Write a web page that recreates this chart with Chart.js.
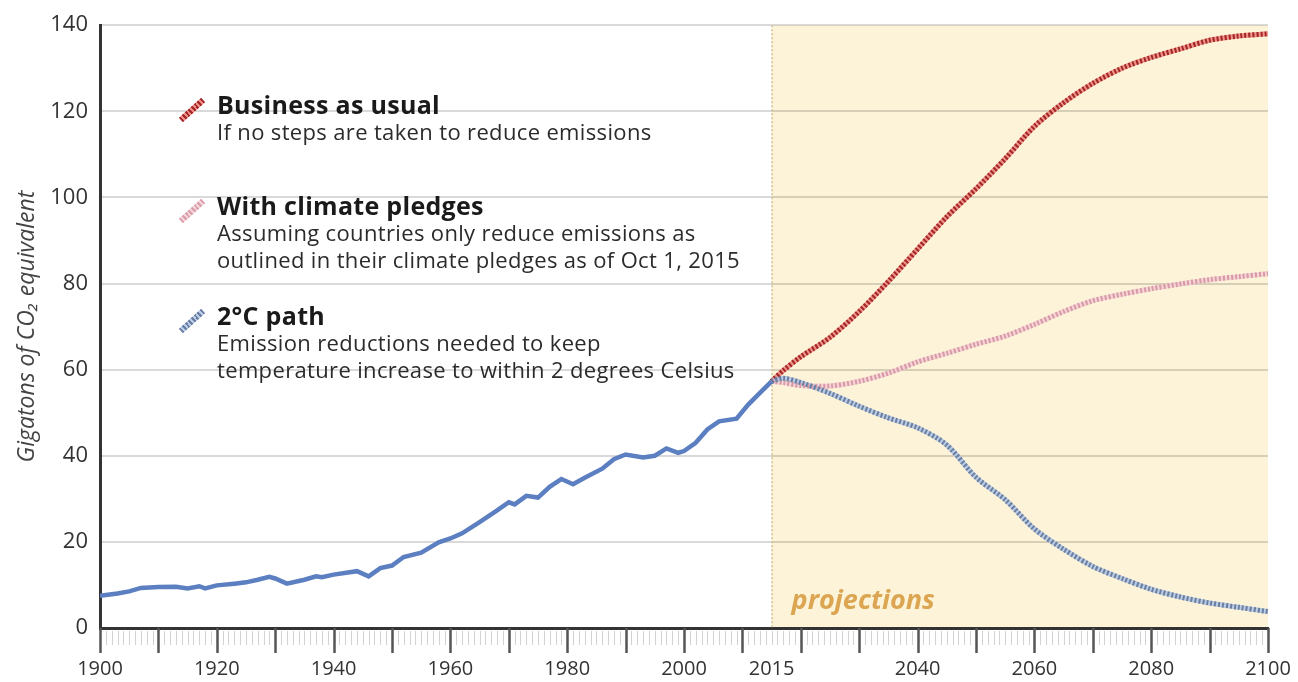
<!DOCTYPE html>
<html>
<head>
<meta charset="utf-8">
<script src="https://cdn.jsdelivr.net/npm/chart.js@4/dist/chart.umd.min.js"></script>
<style>
  html, body { margin: 0; padding: 0; background: #fff; }
  #wrap { position: relative; width: 1298px; height: 682px; font-family: "Open Sans", "Noto Sans", sans-serif; }
  #emissions { display: block; }
  .key { position: absolute; left: 217px; color: #1a1a1a; white-space: nowrap; }
  .key .title { font-weight: 700; font-size: 25px; line-height: 28px; letter-spacing: 0.3px; }
  .key .sub { font-size: 22px; line-height: 26.5px; color: #2b2b2b; letter-spacing: 0.35px; }
  .swatch { position: absolute; width: 30px; height: 6px; transform: rotate(-42deg); }
</style>
</head>
<body>
<div id="wrap">
  <canvas id="emissions" width="1298" height="682"></canvas>
  <div id="legend"></div>
</div>
<script>
// historical emissions (Gt CO2e)
const histYears  = [1900, 1903, 1905, 1907, 1910, 1913, 1915, 1917, 1918, 1920, 1923, 1925, 1927, 1929, 1930, 1932, 1935, 1937, 1938, 1940,
                    1944, 1946, 1948, 1950, 1952, 1955, 1958, 1960, 1962, 1965, 1968, 1970, 1971, 1973, 1975, 1977, 1979, 1981, 1983, 1986,
                    1988, 1990, 1993, 1995, 1997, 1999, 2000, 2002, 2004, 2006, 2009, 2011, 2013, 2015];
const histValues = [7.5, 8.0, 8.5, 9.3, 9.5, 9.6, 9.2, 9.7, 9.2, 9.9, 10.3, 10.6, 11.2, 11.9, 11.5, 10.3, 11.2, 12.0, 11.8, 12.4,
                    13.2, 12.0, 13.9, 14.5, 16.5, 17.5, 19.9, 20.8, 22.0, 24.6, 27.3, 29.2, 28.7, 30.7, 30.3, 32.8, 34.6, 33.4, 34.9, 37.0,
                    39.2, 40.3, 39.6, 40.0, 41.7, 40.7, 41.1, 43.0, 46.1, 48.0, 48.6, 51.9, 54.6, 57.3];

// projections
const projYears     = [2015, 2017, 2020, 2025, 2030, 2035, 2040, 2045, 2050, 2055, 2060, 2065, 2070, 2075, 2080, 2085, 2090, 2095, 2100];
const bauValues     = [57.3, 59.8, 63, 67.5, 73.5, 80.5, 88, 95.5, 102, 109, 116.5, 122, 126.5, 130, 132.5, 134.5, 136.5, 137.5, 138];
const pledgeValues  = [57.3, 57, 56.3, 56.2, 57.3, 59.2, 61.8, 63.8, 65.9, 67.8, 70.5, 73.5, 76, 77.5, 78.8, 79.9, 80.9, 81.6, 82.3];
const twoDegValues  = [57.3, 58, 57, 54.5, 51.5, 48.8, 46.5, 42.5, 35, 29.8, 23, 18.3, 14.3, 11.5, 9, 7.2, 5.8, 4.8, 3.8];

const xLabelYears = [1900, 1920, 1940, 1960, 1980, 2000, 2015, 2040, 2060, 2080, 2100];
const yTicks = [0, 20, 40, 60, 80, 100, 120, 140];
const projectionStart = 2015;

const legendItems = [
  { title: 'Business as usual', lines: ['If no steps are taken to reduce emissions'], top: 90, dark: '#a3262a', light: '#ee8c84' },
  { title: 'With climate pledges', lines: ['Assuming countries only reduce emissions as', 'outlined in their climate pledges as of Oct 1, 2015'], top: 191, dark: '#d9a0ab', light: '#f5d3da' },
  { title: '2°C path', lines: ['Emission reductions needed to keep', 'temperature increase to within 2 degrees Celsius'], top: 301, dark: '#6c7fa3', light: '#b9cbe6' }
];

const FONT = '"Open Sans", "Noto Sans", sans-serif';

function toPoints(xs, ys) {
  return xs.map((x, i) => ({ x: x, y: ys[i] }));
}

function buildLegend() {
  const box = document.getElementById('legend');
  legendItems.forEach(item => {
    const sw = document.createElement('div');
    sw.className = 'swatch';
    sw.style.left = '177px';
    sw.style.top = (item.top + 17) + 'px';
    sw.style.background = `repeating-linear-gradient(90deg, ${item.dark} 0 2px, ${item.light} 2px 4px)`;
    box.appendChild(sw);

    const el = document.createElement('div');
    el.className = 'key';
    el.style.top = item.top + 'px';
    let html = `<div class="title">${item.title}</div>`;
    item.lines.forEach(l => { html += `<div class="sub">${l}</div>`; });
    el.innerHTML = html;
    box.appendChild(el);
  });
}

// yellow projections area + dotted start line + label
const projectionBand = {
  id: 'projectionBand',
  beforeDraw(chart) {
    const { ctx, chartArea: a, scales: { x } } = chart;
    const x0 = x.getPixelForValue(projectionStart);
    ctx.save();
    ctx.fillStyle = '#fdf3d8';
    ctx.fillRect(x0, a.top, a.right - x0, a.bottom - a.top);
    ctx.restore();
  },
  beforeDatasetsDraw(chart) {
    const { ctx, chartArea: a, scales: { x } } = chart;
    const x0 = x.getPixelForValue(projectionStart);
    ctx.save();
    ctx.strokeStyle = '#d2c192';
    ctx.lineWidth = 1.5;
    ctx.setLineDash([2, 2]);
    ctx.beginPath();
    ctx.moveTo(x0 + 0.5, a.top);
    ctx.lineTo(x0 + 0.5, a.bottom);
    ctx.stroke();
    ctx.setLineDash([]);
    ctx.fillStyle = '#dba552';
    ctx.font = 'italic bold 27px ' + FONT;
    ctx.textBaseline = 'alphabetic';
    ctx.fillText('projections', x0 + 20, a.bottom - 19);
    ctx.restore();
  }
};

// yearly tick marks under the x axis, long ones every decade
const yearTicks = {
  id: 'yearTicks',
  afterDraw(chart) {
    const { ctx, chartArea: a, scales: { x } } = chart;
    ctx.save();
    for (let yr = x.min; yr <= x.max; yr++) {
      const px = Math.round(x.getPixelForValue(yr)) + 0.5;
      ctx.beginPath();
      if (yr % 10 === 0) {
        ctx.strokeStyle = '#555';
        ctx.lineWidth = 2.5;
        ctx.moveTo(px, a.bottom);
        ctx.lineTo(px, a.bottom + 25);
      } else {
        ctx.strokeStyle = '#d2d2d2';
        ctx.lineWidth = 1;
        ctx.moveTo(px, a.bottom + 3);
        ctx.lineTo(px, a.bottom + 17);
      }
      ctx.stroke();
    }
    ctx.restore();
  }
};

function dotted(data, dark) {
  return { data: data, borderColor: dark, borderWidth: 5, borderDash: [2, 2], pointRadius: 0, tension: 0.3, order: 1 };
}
function halo(data, light) {
  return { data: data, borderColor: light, borderWidth: 5, pointRadius: 0, tension: 0.3, order: 2 };
}

buildLegend();

const bau = toPoints(projYears, bauValues);
const pledges = toPoints(projYears, pledgeValues);
const twoDeg = toPoints(projYears, twoDegValues);

new Chart(document.getElementById('emissions'), {
  type: 'line',
  data: {
    datasets: [
      { label: 'Historical', data: toPoints(histYears, histValues), borderColor: '#5b7fc0', borderWidth: 4.5,
        pointRadius: 0, tension: 0, order: 0 },
      dotted(twoDeg, '#6c7fa3'), halo(twoDeg, 'rgba(170,195,230,0.8)'),
      dotted(pledges, '#d79aa6'), halo(pledges, 'rgba(245,205,214,0.8)'),
      dotted(bau, '#a3262a'), halo(bau, 'rgba(235,125,115,0.8)')
    ]
  },
  options: {
    responsive: false,
    animation: false,
    layout: { padding: { top: 22, right: 30, left: 0, bottom: 0 } },
    plugins: { legend: { display: false }, tooltip: { enabled: false } },
    scales: {
      x: {
        type: 'linear', min: 1900, max: 2100,
        afterBuildTicks: s => { s.ticks = xLabelYears.map(v => ({ value: v })); },
        afterFit: s => { s.height = 54; s.paddingLeft = 0; s.paddingRight = 0; },
        ticks: { autoSkip: false, maxRotation: 0, padding: 21, color: '#333',
                 font: { family: FONT, size: 20 }, callback: v => String(v) },
        grid: { display: false },
        border: { display: true, color: '#333', width: 3 }
      },
      y: {
        min: 0, max: 140,
        afterBuildTicks: s => { s.ticks = yTicks.map(v => ({ value: v })); },
        afterFit: s => { s.width = 100; },
        ticks: { padding: 12, color: '#333', font: { family: FONT, size: 22 } },
        grid: { color: 'rgba(0,0,0,0.15)', lineWidth: 2, drawTicks: false },
        border: { display: true, color: '#333', width: 3 },
        title: { display: true, text: 'Gigatons of CO₂ equivalent', color: '#444',
                 font: { family: FONT, size: 23, style: 'italic' }, padding: { top: 14, bottom: 0 } }
      }
    }
  },
  plugins: [projectionBand, yearTicks]
});
</script>
</body>
</html>
